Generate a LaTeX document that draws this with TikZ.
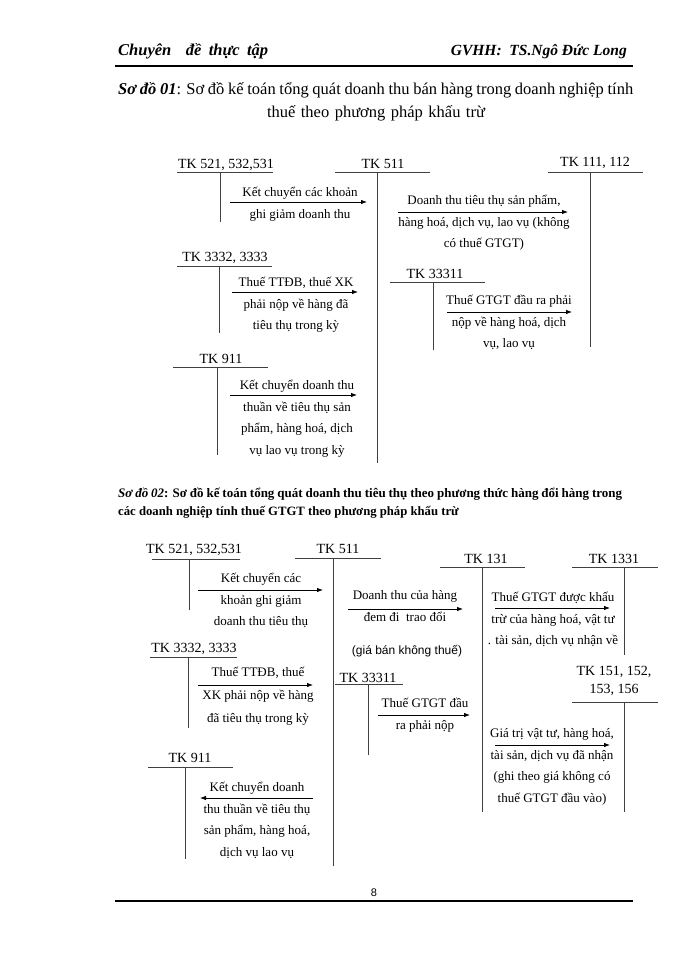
\documentclass[tikz,border=0pt]{standalone}
\usepackage{fontspec}
\setmainfont{Liberation Serif}
\newfontfamily\sansfnt{Liberation Sans}
\usetikzlibrary{arrows.meta}

\begin{document}
\begin{tikzpicture}[x=1pt,y=-1pt,
  acc/.style={line width=1pt,draw=black!75},
  tk/.style={inner sep=0pt,anchor=base,align=center,font=\fontsize{14}{18}\selectfont},
  txt/.style={inner sep=0pt,anchor=base,align=center,font=\fontsize{13}{21.5}\selectfont},
  arr/.style={line width=0.8pt,-{Latex[length=6pt,width=4.5pt]}},
  rule/.style={line width=1.5pt}
]
  \fill[white] (0,0) rectangle (700,960);
  \useasboundingbox (0,0) rectangle (700,960);
  % header
  \node[anchor=base west,inner sep=0pt,font=\fontsize{16.5}{19}\selectfont\bfseries\itshape] (hdl) at (118,56) {\makebox[150pt][s]{Chuyên\ \ đề thực tập}};
  \node[anchor=base east,inner sep=0pt,font=\fontsize{15.5}{19}\selectfont\bfseries\itshape] (hdr) at (627,56) {GVHH:\ \ TS.Ngô Đức Long};
  \coordinate (h1) at (115,66);
  \coordinate (h2) at (633,66);
  \draw[rule] (h1) -- (h2);
  % title 1
  \node[anchor=base west,inner sep=0pt,font=\fontsize{16.5}{19}\selectfont] (ti1) at (118,95) {\makebox[515pt][s]{\textbf{\textit{Sơ đồ 01}}: Sơ đồ kế toán tổng quát doanh thu bán hàng trong doanh nghiệp tính}};
  \node[anchor=base,inner sep=0pt,font=\fontsize{16.5}{19}\selectfont] (ti2) at (376,118) {\makebox[218pt][s]{thuế theo phương pháp khấu trừ}};

  % diagram 1: accounts
  \node[tk] (a1) at (226,169) {TK 521, 532,531};
  \coordinate (a1l) at (177,173); \coordinate (a1r) at (273,173);
  \coordinate (a1t) at (220,173); \coordinate (a1b) at (220,222);
  \node[tk] (a2) at (383,168) {TK 511};
  \coordinate (a2l) at (335,173); \coordinate (a2r) at (430,173);
  \coordinate (a2t) at (377,173); \coordinate (a2b) at (377,463);
  \node[tk] (a3) at (595,167) {TK 111, 112};
  \coordinate (a3l) at (548,173); \coordinate (a3r) at (643,173);
  \coordinate (a3t) at (590,173); \coordinate (a3b) at (590,347);
  \node[tk] (a4) at (225,261) {TK 3332, 3333};
  \coordinate (a4l) at (177,266); \coordinate (a4r) at (272,266);
  \coordinate (a4t) at (219,266); \coordinate (a4b) at (219,333);
  \node[tk] (a5) at (435,278) {TK 33311};
  \coordinate (a5l) at (390,282); \coordinate (a5r) at (485,282);
  \coordinate (a5t) at (433,282); \coordinate (a5b) at (433,350);
  \node[tk] (a6) at (221,363) {TK 911};
  \coordinate (a6l) at (173,367); \coordinate (a6r) at (268,367);
  \coordinate (a6t) at (217,367); \coordinate (a6b) at (217,455);
  \draw[acc] (a1l) -- (a1r);  \draw[acc] (a1t) -- (a1b);
  \draw[acc] (a2l) -- (a2r);  \draw[acc] (a2t) -- (a2b);
  \draw[acc] (a3l) -- (a3r);  \draw[acc] (a3t) -- (a3b);
  \draw[acc] (a4l) -- (a4r);  \draw[acc] (a4t) -- (a4b);
  \draw[acc] (a5l) -- (a5r);  \draw[acc] (a5t) -- (a5b);
  \draw[acc] (a6l) -- (a6r);  \draw[acc] (a6t) -- (a6b);
  % diagram 1: entries (placed at the baseline of the last line)
  \node[txt] (k1) at (300,218) {Kết chuyển các khoản\\ghi giảm doanh thu};
  \coordinate (k1s) at (230,202); \coordinate (k1e) at (367,202);
  \node[txt] (k2) at (484,247.5) {Doanh thu tiêu thụ sản phẩm,\\hàng hoá, dịch vụ, lao vụ (không\\có thuế GTGT)};
  \coordinate (k2s) at (398,212); \coordinate (k2e) at (568,212);
  \node[txt] (k3) at (296,329.5) {Thuế TTĐB, thuế XK\\phải nộp về hàng đã\\tiêu thụ trong kỳ};
  \coordinate (k3s) at (232,292); \coordinate (k3e) at (358,292);
  \node[txt] (k4) at (509,347.5) {Thuế GTGT đầu ra phải\\nộp về hàng hoá, dịch\\vụ, lao vụ};
  \coordinate (k4s) at (447,312); \coordinate (k4e) at (572,312);
  \node[txt] (k5) at (297,454) {Kết chuyển doanh thu\\thuần về tiêu thụ sản\\phẩm, hàng hoá, dịch\\vụ lao vụ trong kỳ};
  \coordinate (k5s) at (230,395); \coordinate (k5e) at (357,395);
  \draw[arr] (k1s) -- (k1e);
  \draw[arr] (k2s) -- (k2e);
  \draw[arr] (k3s) -- (k3e);
  \draw[arr] (k4s) -- (k4e);
  \draw[arr] (k5s) -- (k5e);

  % title 2
  \node[anchor=base west,inner sep=0pt,font=\fontsize{13}{16}\selectfont\bfseries] (tj1) at (118,497) {\makebox[504pt][s]{\textit{Sơ đồ 02}: Sơ đồ kế toán tổng quát doanh thu tiêu thụ theo phương thức hàng đổi hàng trong}};
  \node[anchor=base west,inner sep=0pt,font=\fontsize{12.7}{16}\selectfont\bfseries] (tj2) at (118,515) {các doanh nghiệp tính thuế GTGT theo phương pháp khấu trừ};

  % diagram 2: accounts
  \node[tk] (b1) at (194,553) {TK 521, 532,531};
  \coordinate (b1l) at (152,559); \coordinate (b1r) at (240,559);
  \coordinate (b1t) at (189,559); \coordinate (b1b) at (189,610);
  \node[tk] (b2) at (338,553) {TK 511};
  \coordinate (b2l) at (295,558); \coordinate (b2r) at (381,558);
  \coordinate (b2t) at (333,558); \coordinate (b2b) at (333,866);
  \node[tk] (b3) at (486,563) {TK 131};
  \coordinate (b3l) at (440,567); \coordinate (b3r) at (525,567);
  \coordinate (b3t) at (482,567); \coordinate (b3b) at (482,812);
  \node[tk] (b4) at (614,563) {TK 1331};
  \coordinate (b4l) at (572,567); \coordinate (b4r) at (658,567);
  \coordinate (b4t) at (624,567); \coordinate (b4b) at (624,655);
  \node[tk] (b5) at (614,693) {TK 151, 152,\\153, 156};
  \coordinate (b5l) at (572,702); \coordinate (b5r) at (658,702);
  \coordinate (b5t) at (624,702); \coordinate (b5b) at (624,812);
  \node[tk] (b6) at (194,652) {TK 3332, 3333};
  \coordinate (b6l) at (150,657); \coordinate (b6r) at (237,657);
  \coordinate (b6t) at (188,657); \coordinate (b6b) at (188,728);
  \node[tk] (b7) at (368,682) {TK 33311};
  \coordinate (b7l) at (335,684); \coordinate (b7r) at (403,684);
  \coordinate (b7t) at (368,684); \coordinate (b7b) at (368,755);
  \node[tk] (b8) at (190,762) {TK 911};
  \coordinate (b8l) at (148,767); \coordinate (b8r) at (233,767);
  \coordinate (b8t) at (185,767); \coordinate (b8b) at (185,859);
  \draw[acc] (b1l) -- (b1r);  \draw[acc] (b1t) -- (b1b);
  \draw[acc] (b2l) -- (b2r);  \draw[acc] (b2t) -- (b2b);
  \draw[acc] (b3l) -- (b3r);  \draw[acc] (b3t) -- (b3b);
  \draw[acc] (b4l) -- (b4r);  \draw[acc] (b4t) -- (b4b);
  \draw[acc] (b5l) -- (b5r);  \draw[acc] (b5t) -- (b5b);
  \draw[acc] (b6l) -- (b6r);  \draw[acc] (b6t) -- (b6b);
  \draw[acc] (b7l) -- (b7r);  \draw[acc] (b7t) -- (b7b);
  \draw[acc] (b8l) -- (b8r);  \draw[acc] (b8t) -- (b8b);
  % diagram 2: entries
  \node[txt] (m1) at (261,625.5) {Kết chuyển các\\khoản ghi giảm\\doanh thu tiêu thụ};
  \coordinate (m1s) at (198,590); \coordinate (m1e) at (323,590);
  \node[txt] (m2) at (405,621) {Doanh thu của hàng\\đem đi\ \ trao đổi};
  \coordinate (m2s) at (348,609); \coordinate (m2e) at (463,609);
  \node[txt,font=\fontsize{12}{14}\sansfnt] (m2n) at (407,654.5) {(giá bán không thuế)};
  \node[txt] (m3) at (425,729) {Thuế GTGT đầu\\ra phải nộp};
  \coordinate (m3s) at (378,715); \coordinate (m3e) at (470,715);
  \node[txt] (m4) at (553,644.5) {Thuế GTGT được khấu\\trừ của hàng hoá, vật tư\\. tài sản, dịch vụ nhận về};
  \coordinate (m4s) at (495,608); \coordinate (m4e) at (610,608);
  \node[txt] (m5) at (552,802) {Giá trị vật tư, hàng hoá,\\tài sản, dịch vụ đã nhận\\(ghi theo giá không có\\thuế GTGT đầu vào)};
  \coordinate (m5s) at (495,745); \coordinate (m5e) at (610,745);
  \node[txt,font=\fontsize{13}{23}\selectfont] (m6) at (258,722.5) {Thuế TTĐB, thuế\\XK phải nộp về hàng\\đã tiêu thụ trong kỳ};
  \coordinate (m6s) at (198,685); \coordinate (m6e) at (313,685);
  \node[txt] (m7) at (257,856) {Kết chuyển doanh\\thu thuần về tiêu thụ\\sản phẩm, hàng hoá,\\dịch vụ lao vụ};
  \coordinate (m7s) at (313,798); \coordinate (m7e) at (200,798);
  \draw[arr] (m1s) -- (m1e);
  \draw[arr] (m2s) -- (m2e);
  \draw[arr] (m3s) -- (m3e);
  \draw[arr] (m4s) -- (m4e);
  \draw[arr] (m5s) -- (m5e);
  \draw[arr] (m6s) -- (m6e);
  \draw[arr] (m7s) -- (m7e);

  % footer
  \node[anchor=base,inner sep=0pt,font=\fontsize{11}{13}\sansfnt] (pg) at (374,896) {8};
  \coordinate (f1) at (115,901);
  \coordinate (f2) at (633,901);
  \draw[rule] (f1) -- (f2);
\end{tikzpicture}
\end{document}
